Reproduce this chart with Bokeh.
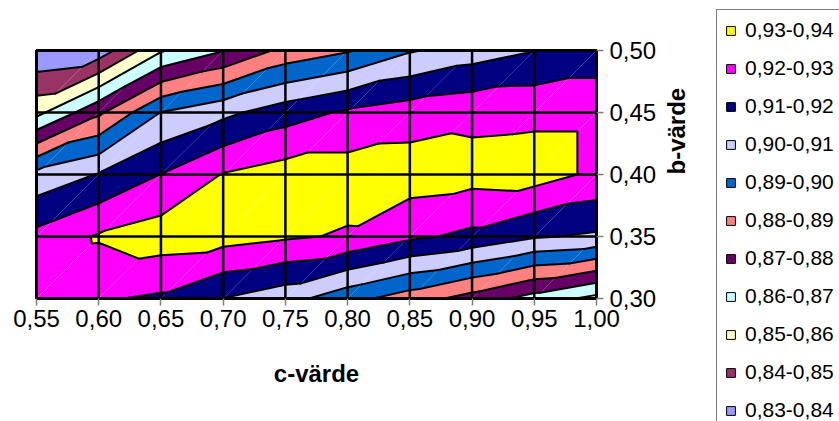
import math
import numpy as np
from bokeh.plotting import figure
from bokeh.models import Range1d, FixedTicker, Legend, LegendItem
from bokeh.embed import file_html
from bokeh.resources import INLINE

# ---------------- data ----------------
c_values = [0.55, 0.60, 0.65, 0.70, 0.75, 0.80, 0.85, 0.90, 0.95, 1.00]
b_values = [0.30, 0.35, 0.40, 0.45, 0.50]
x_tick_labels = ["0,55", "0,60", "0,65", "0,70", "0,75", "0,80", "0,85", "0,90", "0,95", "1,00"]
y_tick_labels = ["0,30", "0,35", "0,40", "0,45", "0,50"]

# surface values, one list per b-row, ordered by c
z_b030 = [0.922, 0.921, 0.9185, 0.9098, 0.904, 0.8935, 0.885, 0.876, 0.866, 0.857]
z_b035 = [0.923, 0.931, 0.935, 0.934, 0.9313, 0.929, 0.922, 0.9176, 0.911, 0.9085]
z_b040 = [0.903, 0.9105, 0.9202, 0.9305, 0.9347, 0.9347, 0.935, 0.9337, 0.9345, 0.928]
z_b045 = [0.857, 0.878, 0.9003, 0.9075, 0.9155, 0.9215, 0.9253, 0.9275, 0.928, 0.928]
z_b050 = [0.831, 0.834, 0.859, 0.8695, 0.883, 0.889, 0.899, 0.905, 0.9097, 0.9136]

band_lows = [0.83, 0.84, 0.85, 0.86, 0.87, 0.88, 0.89, 0.90, 0.91, 0.92, 0.93]
band_labels = ["0,83-0,84", "0,84-0,85", "0,85-0,86", "0,86-0,87", "0,87-0,88", "0,88-0,89",
               "0,89-0,90", "0,90-0,91", "0,91-0,92", "0,92-0,93", "0,93-0,94"]
band_colors = ["#9999FF", "#993366", "#FFFFCC", "#CCFFFF", "#660066", "#FF8080",
               "#0066CC", "#CCCCFF", "#000080", "#FF00FF", "#FFFF00"]

# ---------------- page layout (pixels) ----------------
W, H = 839, 421
PLOT_LEFT, PLOT_RIGHT, PLOT_TOP, PLOT_BOTTOM = 36, 596, 50, 298

c0, c1 = c_values[0], c_values[-1]
b0, b1 = b_values[0], b_values[-1]
dx = (c1 - c0) / (PLOT_RIGHT - PLOT_LEFT)
dy = (b1 - b0) / (PLOT_BOTTOM - PLOT_TOP)
x_range = Range1d(c0 - PLOT_LEFT * dx, c1 + (W - PLOT_RIGHT) * dx)
y_range = Range1d(b0 - (H - PLOT_BOTTOM) * dy, b1 + PLOT_TOP * dy)

# ---------------- geometry (triangulated linear surface) ----------------
Z = np.array([z_b030, z_b035, z_b040, z_b045, z_b050])
triangles = []
for j in range(len(b_values) - 1):
    for i in range(len(c_values) - 1):
        BL = (c_values[i], b_values[j], Z[j, i])
        BR = (c_values[i + 1], b_values[j], Z[j, i + 1])
        TR = (c_values[i + 1], b_values[j + 1], Z[j + 1, i + 1])
        TL = (c_values[i], b_values[j + 1], Z[j + 1, i])
        triangles.append([BL, BR, TR])
        triangles.append([BL, TR, TL])


def clip(poly, level, keep_above):
    out = []
    n = len(poly)
    for k in range(n):
        P = poly[k]
        Q = poly[(k + 1) % n]
        p_in = P[2] >= level if keep_above else P[2] <= level
        q_in = Q[2] >= level if keep_above else Q[2] <= level
        if p_in:
            out.append(P)
        if p_in != q_in:
            t = (level - P[2]) / (Q[2] - P[2])
            out.append((P[0] + t * (Q[0] - P[0]), P[1] + t * (Q[1] - P[1]), level))
    return out


p = figure(width=W, height=H, title=None,
           x_range=x_range, y_range=y_range,
           x_axis_location="below", y_axis_location="right",
           toolbar_location=None, output_backend="svg",
           min_border=0, outline_line_color=None,
           background_fill_color="white", border_fill_color="white")
p.grid.visible = False

for low, col in zip(band_lows, band_colors):
    high = round(low + 0.01, 2)
    xs, ys = [], []
    for tri in triangles:
        poly = clip(tri, low, True)
        if len(poly) >= 3:
            poly = clip(poly, high, False)
        if len(poly) >= 3:
            xs.append([q[0] for q in poly])
            ys.append([q[1] for q in poly])
    if xs:
        p.patches(xs, ys, fill_color=col, line_color=None)

levels = [round(l + 0.01, 2) for l in band_lows[:-1]]
seg_x, seg_y = [], []
for L in levels:
    for tri in triangles:
        pts = []
        for k in range(3):
            P = tri[k]
            Q = tri[(k + 1) % 3]
            if (P[2] - L) * (Q[2] - L) < 0:
                t = (L - P[2]) / (Q[2] - P[2])
                pts.append((P[0] + t * (Q[0] - P[0]), P[1] + t * (Q[1] - P[1])))
        if len(pts) == 2:
            seg_x.append([pts[0][0], pts[1][0]])
            seg_y.append([pts[0][1], pts[1][1]])
p.multi_line(seg_x, seg_y, line_color="black", line_width=2, line_cap="round")

# grid lines at every data column / row, limited to the plot area
p.segment(x0=c_values, y0=[b0] * len(c_values), x1=c_values, y1=[b1] * len(c_values),
          line_color="black", line_width=2.5)
p.segment(x0=[c0] * len(b_values), y0=b_values, x1=[c1] * len(b_values), y1=b_values,
          line_color="black", line_width=2.5)
# plot-area border
p.quad(left=[c0], right=[c1], bottom=[b0], top=[b1], fill_color=None,
       line_color="black", line_width=3)

# ---------------- axes (pinned to the plot area) ----------------
xa = p.xaxis[0]
ya = p.yaxis[0]
xa.fixed_location = b0
ya.fixed_location = c1
xa.bounds = (c0, c1)
ya.bounds = (b0, b1)
xa.ticker = FixedTicker(ticks=c_values)
ya.ticker = FixedTicker(ticks=b_values)
xa.major_label_overrides = dict(zip(c_values, x_tick_labels))
ya.major_label_overrides = dict(zip(b_values, y_tick_labels))
for ax in (xa, ya):
    ax.axis_line_color = None
    ax.major_tick_line_color = "#808080"
    ax.major_tick_line_width = 1.5
    ax.major_tick_out = 7
    ax.major_tick_in = 0
    ax.minor_tick_line_color = None
    ax.major_label_text_font = "Liberation Sans"
    ax.major_label_text_font_size = "24px"
    ax.major_label_text_color = "black"
    ax.axis_label_text_font = "Liberation Sans"
    ax.axis_label_text_font_size = "24px"
    ax.axis_label_text_font_style = "bold"
    ax.axis_label_text_color = "black"
xa.major_label_standoff = 4
ya.major_label_standoff = 6
xa.axis_label = "c-värde"
xa.axis_label_standoff = 30
ya.axis_label = "b-värde"
ya.axis_label_standoff = 17
ya.axis_label_orientation = math.pi / 2

# ---------------- legend ----------------
items = []
for lab, col in zip(reversed(band_labels), reversed(band_colors)):
    # zero-area key glyph at the plot corner (hidden under the border)
    r = p.quad(left=[c0], right=[c0], bottom=[b0], top=[b0],
               fill_color=col, line_color="black", line_width=1)
    items.append(LegendItem(label=lab, renderers=[r]))
legend = Legend(items=items, location=(716, -10),
                padding=8, spacing=14, margin=0,
                label_height=24, glyph_height=11, glyph_width=11,
                label_standoff=9,
                label_text_font="Liberation Sans", label_text_font_size="21px",
                label_text_color="black",
                border_line_color="black", border_line_width=1,
                background_fill_color="white", background_fill_alpha=1)
p.add_layout(legend)

open("out.html", "w").write(file_html(p, INLINE))
